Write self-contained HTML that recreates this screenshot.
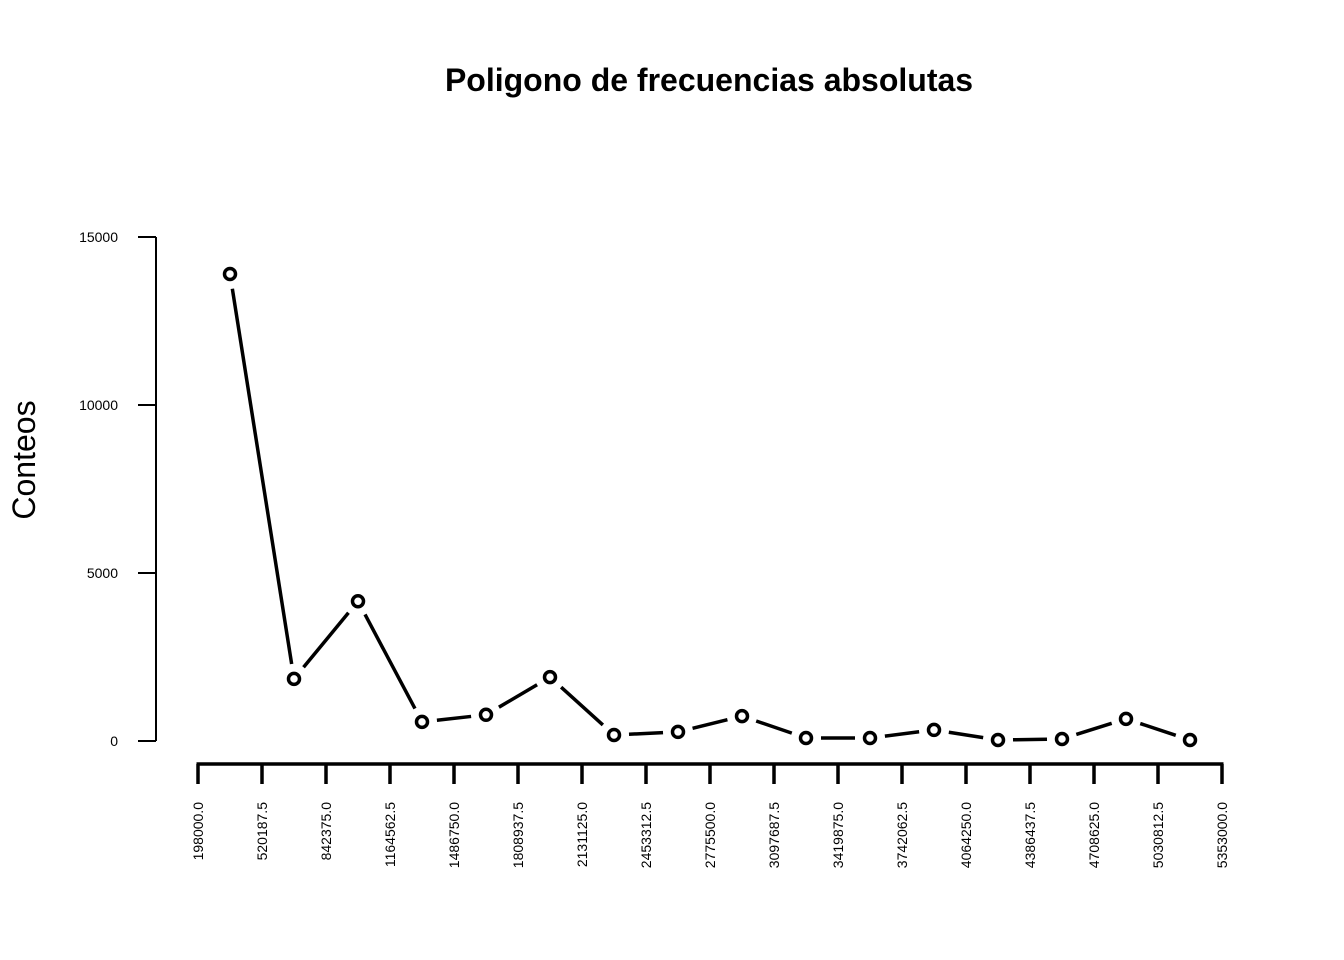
<!DOCTYPE html>
<html><head><meta charset="utf-8"><style>
body{margin:0;background:#fff;}
svg{display:block;font-family:"Liberation Sans",sans-serif;}
</style></head><body>
<svg id="chart" width="1344" height="960" viewBox="0 0 1344 960">
<rect width="1344" height="960" fill="#fff"/>
<text x="709" y="91" text-anchor="middle" font-size="32" font-weight="bold">Poligono de frecuencias absolutas</text>
<text transform="translate(35,460) rotate(-90)" text-anchor="middle" font-size="32">Conteos</text>
<g id="yaxis"></g>
<g id="xaxis"></g>
<g id="series"></g>
</svg>
<script>
const yTicks = [0, 5000, 10000, 15000];
const xTickLabels = ["198000.0","520187.5","842375.0","1164562.5","1486750.0","1808937.5","2131125.0","2453312.5","2775500.0","3097687.5","3419875.0","3742062.5","4064250.0","4386437.5","4708625.0","5030812.5","5353000.0"];
const counts = [13900, 1850, 4160, 570, 780, 1900, 180, 270, 740, 90, 90, 330, 30, 60, 660, 30];

const NS = "http://www.w3.org/2000/svg";
function mk(tag, attrs, parent){const e=document.createElementNS(NS,tag);for(const k in attrs)e.setAttribute(k,attrs[k]);parent.appendChild(e);return e;}
const y = v => 741 - v * (504/15000);
const xTick = i => 198 + i * 64;
const xMid = i => 230 + i * 64;

const ya = document.getElementById('yaxis');
mk('line',{x1:156,x2:156,y1:y(15000),y2:y(0),stroke:'#000','stroke-width':2},ya);
yTicks.forEach(t=>{
  const l=mk('line',{x1:138,x2:156,y1:y(t),y2:y(t),stroke:'#000','stroke-width':2},ya);
  
  
  const tx=mk('text',{x:118,y:y(t)+5,'text-anchor':'end','font-size':14},ya);
  tx.textContent=t;
  
  
});

const xa = document.getElementById('xaxis');
mk('line',{x1:xTick(0)-1.5,x2:xTick(xTickLabels.length-1)+1.5,y1:764,y2:764,stroke:'#000','stroke-width':3.5},xa);
xTickLabels.forEach((lab,i)=>{
  const l=mk('line',{x1:xTick(i),x2:xTick(i),y1:764,y2:784,stroke:'#000','stroke-width':3.5},xa);
  
  
  const tx=mk('text',{transform:`translate(${xTick(i)+5},802) rotate(-90)`,'text-anchor':'end','font-size':14},xa);
  tx.textContent=lab;
  
  
});

const s = document.getElementById('series');
const gap = 15;
for(let i=0;i<counts.length-1;i++){
  const x1=xMid(i),y1=y(counts[i]),x2=xMid(i+1),y2=y(counts[i+1]);
  const d=Math.hypot(x2-x1,y2-y1);
  if(d<=2*gap) continue;
  const ux=(x2-x1)/d,uy=(y2-y1)/d;
  const l=mk('line',{x1:x1+ux*gap,y1:y1+uy*gap,x2:x2-ux*gap,y2:y2-uy*gap,stroke:'#000','stroke-width':3.5},s);
  
  
}
counts.forEach((c,i)=>{
  const p=mk('circle',{cx:xMid(i),cy:y(c),r:5.5,fill:'#fff',stroke:'#000','stroke-width':3.5},s);
  
  
});
</script>
</body></html>
